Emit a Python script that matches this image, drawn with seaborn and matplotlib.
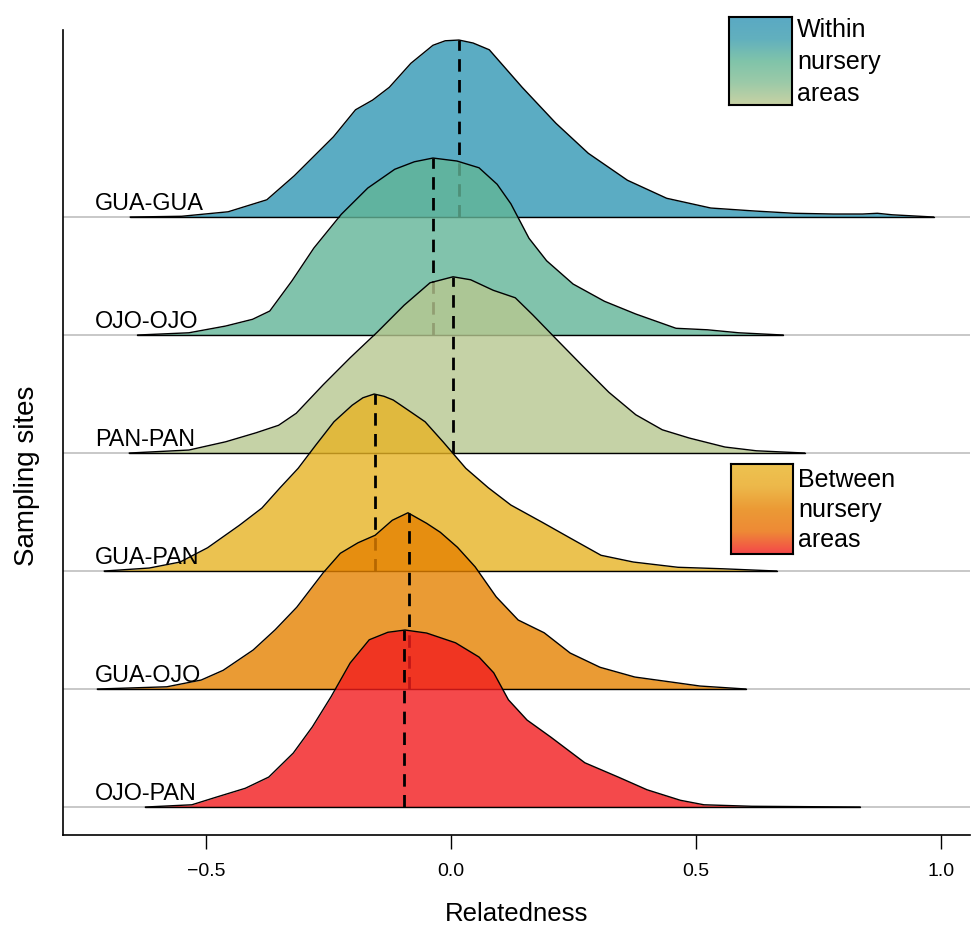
import numpy as np
import pandas as pd
import matplotlib
matplotlib.use("Agg")
import matplotlib.pyplot as plt
import seaborn as sns
from matplotlib.colors import LinearSegmentedColormap

# ---------------- data ----------------
groups = ["GUA-GUA", "OJO-OJO", "PAN-PAN", "GUA-PAN", "GUA-OJO", "OJO-PAN"]

gua_gua_x = [-0.655, -0.55, -0.455, -0.376, -0.32, -0.24, -0.195, -0.16, -0.126, -0.082, -0.037, -0.012, 0.016,
             0.045, 0.078, 0.145, 0.214, 0.28, 0.36, 0.44, 0.53, 0.62, 0.70, 0.78, 0.84, 0.87, 0.90, 0.985]
gua_gua_d = [0, 0.01, 0.07, 0.23, 0.55, 1.07, 1.43, 1.56, 1.73, 2.05, 2.29, 2.35, 2.36,
             2.32, 2.23, 1.73, 1.25, 0.85, 0.49, 0.25, 0.12, 0.08, 0.05, 0.04, 0.04, 0.05, 0.03, 0]

ojo_ojo_x = [-0.64, -0.535, -0.46, -0.405, -0.37, -0.325, -0.28, -0.224, -0.17, -0.115, -0.075, -0.037, 0.012,
             0.057, 0.094, 0.122, 0.159, 0.195, 0.249, 0.313, 0.377, 0.459, 0.523, 0.587, 0.678]
ojo_ojo_d = [0, 0.03, 0.12, 0.21, 0.32, 0.72, 1.16, 1.61, 1.96, 2.21, 2.31, 2.36, 2.32,
             2.23, 2.01, 1.75, 1.29, 0.99, 0.68, 0.45, 0.28, 0.09, 0.07, 0.03, 0]

pan_pan_x = [-0.657, -0.535, -0.46, -0.398, -0.352, -0.316, -0.261, -0.206, -0.151, -0.096, -0.043, 0.004,
             0.04, 0.086, 0.131, 0.167, 0.213, 0.267, 0.322, 0.377, 0.431, 0.486, 0.559, 0.623, 0.722]
pan_pan_d = [0, 0.04, 0.15, 0.27, 0.37, 0.53, 0.91, 1.27, 1.61, 1.97, 2.27, 2.35,
             2.31, 2.17, 2.07, 1.84, 1.53, 1.17, 0.81, 0.51, 0.31, 0.2, 0.08, 0.03, 0]

gua_pan_x = [-0.708, -0.616, -0.553, -0.497, -0.432, -0.386, -0.349, -0.312, -0.276, -0.239, -0.202, -0.18, -0.157,
             -0.137, -0.118, -0.082, -0.053, -0.016, 0.03, 0.076, 0.122, 0.186, 0.243, 0.306, 0.372, 0.463, 0.555, 0.665]
gua_pan_d = [0, 0.04, 0.12, 0.31, 0.61, 0.84, 1.11, 1.37, 1.68, 1.99, 2.21, 2.31, 2.36,
             2.33, 2.28, 2.12, 1.99, 1.72, 1.37, 1.11, 0.88, 0.65, 0.44, 0.21, 0.12, 0.05, 0.03, 0]

gua_ojo_x = [-0.722, -0.58, -0.51, -0.465, -0.404, -0.359, -0.315, -0.261, -0.226, -0.19, -0.155, -0.12,
             -0.088, -0.05, -0.022, 0.013, 0.049, 0.092, 0.137, 0.19, 0.243, 0.304, 0.375, 0.464, 0.508, 0.602]
gua_ojo_d = [0, 0.03, 0.12, 0.25, 0.52, 0.79, 1.09, 1.55, 1.81, 1.95, 2.05, 2.25,
             2.35, 2.21, 2.09, 1.89, 1.63, 1.23, 0.92, 0.75, 0.48, 0.29, 0.16, 0.08, 0.04, 0]

ojo_pan_x = [-0.624, -0.529, -0.48, -0.42, -0.372, -0.322, -0.283, -0.245, -0.206, -0.167, -0.129, -0.094,
             -0.05, 0.009, 0.057, 0.087, 0.117, 0.155, 0.204, 0.273, 0.341, 0.4, 0.468, 0.516, 0.614, 0.835]
ojo_pan_d = [0, 0.03, 0.13, 0.25, 0.4, 0.72, 1.07, 1.47, 1.92, 2.23, 2.33, 2.36,
             2.32, 2.19, 2.0, 1.79, 1.43, 1.16, 0.93, 0.59, 0.4, 0.23, 0.09, 0.03, 0.01, 0]

medians = [0.016, -0.037, 0.004, -0.155, -0.086, -0.096]

fill_colors = ["#3297B4", "#62B597", "#B7C790", "#E7B324", "#E58201", "#F21C1E"]

xticks = [-0.5, 0.0, 0.5, 1.0]
xtick_labels = ["\u22120.5", "0.0", "0.5", "1.0"]

xs = [gua_gua_x, ojo_ojo_x, pan_pan_x, gua_pan_x, gua_ojo_x, ojo_pan_x]
ds = [gua_gua_d, ojo_ojo_d, pan_pan_d, gua_pan_d, gua_ojo_d, ojo_pan_d]

# ---------------- figure ----------------
sns.set_style("ticks")
plt.rcParams["font.family"] = ["Liberation Sans", "DejaVu Sans"]
plt.rcParams["text.color"] = "black"
plt.rcParams["axes.labelcolor"] = "black"
plt.rcParams["xtick.color"] = "black"

W, H = 971, 926
fig = plt.figure(figsize=(W / 100, H / 100), dpi=100)
ax = fig.add_axes([63 / W, 1 - 835 / H, (970 - 63) / W, (835 - 30) / H])

x_left, x_right = -0.792, 1.059
ax.set_xlim(x_left, x_right)
ax.set_ylim(-0.237, 6.585)

dmax = max(max(d) for d in ds)
scale = 1.5 / dmax
n = len(groups)

for i, (name, x, d, med, col) in enumerate(zip(groups, xs, ds, medians, fill_colors)):
    base = n - 1 - i
    x = np.asarray(x, float)
    y = base + np.asarray(d, float) * scale
    z = 3 + 4 * i
    ax.axhline(base, color="#C4C4C4", lw=1.3, zorder=1)
    ax.fill_between(x, base, y, color=col, alpha=0.8, lw=0, zorder=z)
    df = pd.DataFrame({"x": x, "y": y})
    sns.lineplot(data=df, x="x", y="y", color="black", lw=1.0, ax=ax, zorder=z + 1,
                 sort=False, estimator=None)
    ax.plot([x[0], x[-1]], [base, base], color="black", lw=1.0, zorder=z + 1)
    top = np.interp(med, x, y)
    ax.plot([med, med], [base, top], color="black", lw=2.0, dashes=(4.5, 3), zorder=z + 2)

for i, name in enumerate(groups):
    base = n - 1 - i
    ax.text(-0.727, base + 7 / 118, name, fontsize=16.8, va="baseline", ha="left",
            color="black", zorder=100)

ax.set_yticks([])
ax.set_xticks(xticks)
ax.set_xticklabels(xtick_labels, fontsize=14)
ax.tick_params(axis="x", length=10, width=1, pad=10, colors="black", labelsize=14)
ax.set_xlabel("Relatedness", fontsize=18.5, labelpad=16)
ax.set_ylabel("")
fig.text(27 / W, 1 - 476 / H, "Sampling sites", rotation=90, fontsize=20,
         ha="center", va="center")
for s in ["top", "right"]:
    ax.spines[s].set_visible(False)
for s in ["left", "bottom"]:
    ax.spines[s].set_color("black")
    ax.spines[s].set_linewidth(1.2)

# ---------------- gradient legends ----------------
def grad_box(x0, y0, x1, y1, colors, label, ls, dy):
    lax = fig.add_axes([x0 / W, 1 - y1 / H, (x1 - x0) / W, (y1 - y0) / H])
    cmap = LinearSegmentedColormap.from_list("g", colors)
    grad = np.linspace(0, 1, 256).reshape(-1, 1)
    lax.imshow(grad, aspect="auto", cmap=cmap, extent=[0, 1, 1, 0])
    lax.set_xticks([])
    lax.set_yticks([])
    for s in lax.spines.values():
        s.set_color("black")
        s.set_linewidth(1.5)
    fig.text((x1 + 5) / W, 1 - (y0 + dy) / H, label, fontsize=18, ha="left", va="top",
             linespacing=ls)

grad_box(729, 17, 792, 105, ["#5AA9C4", "#62B0BE", "#80C4AA", "#9CCAA8", "#C8D2A4"],
         "Within\nnursery\nareas", 1.42, 1)
grad_box(731, 464, 793, 554, ["#EDC350", "#EDB84A", "#EB9A35", "#EE8A36", "#F4474A"],
         "Between\nnursery\nareas", 1.32, 4)

fig.savefig("out.png", dpi=100)
